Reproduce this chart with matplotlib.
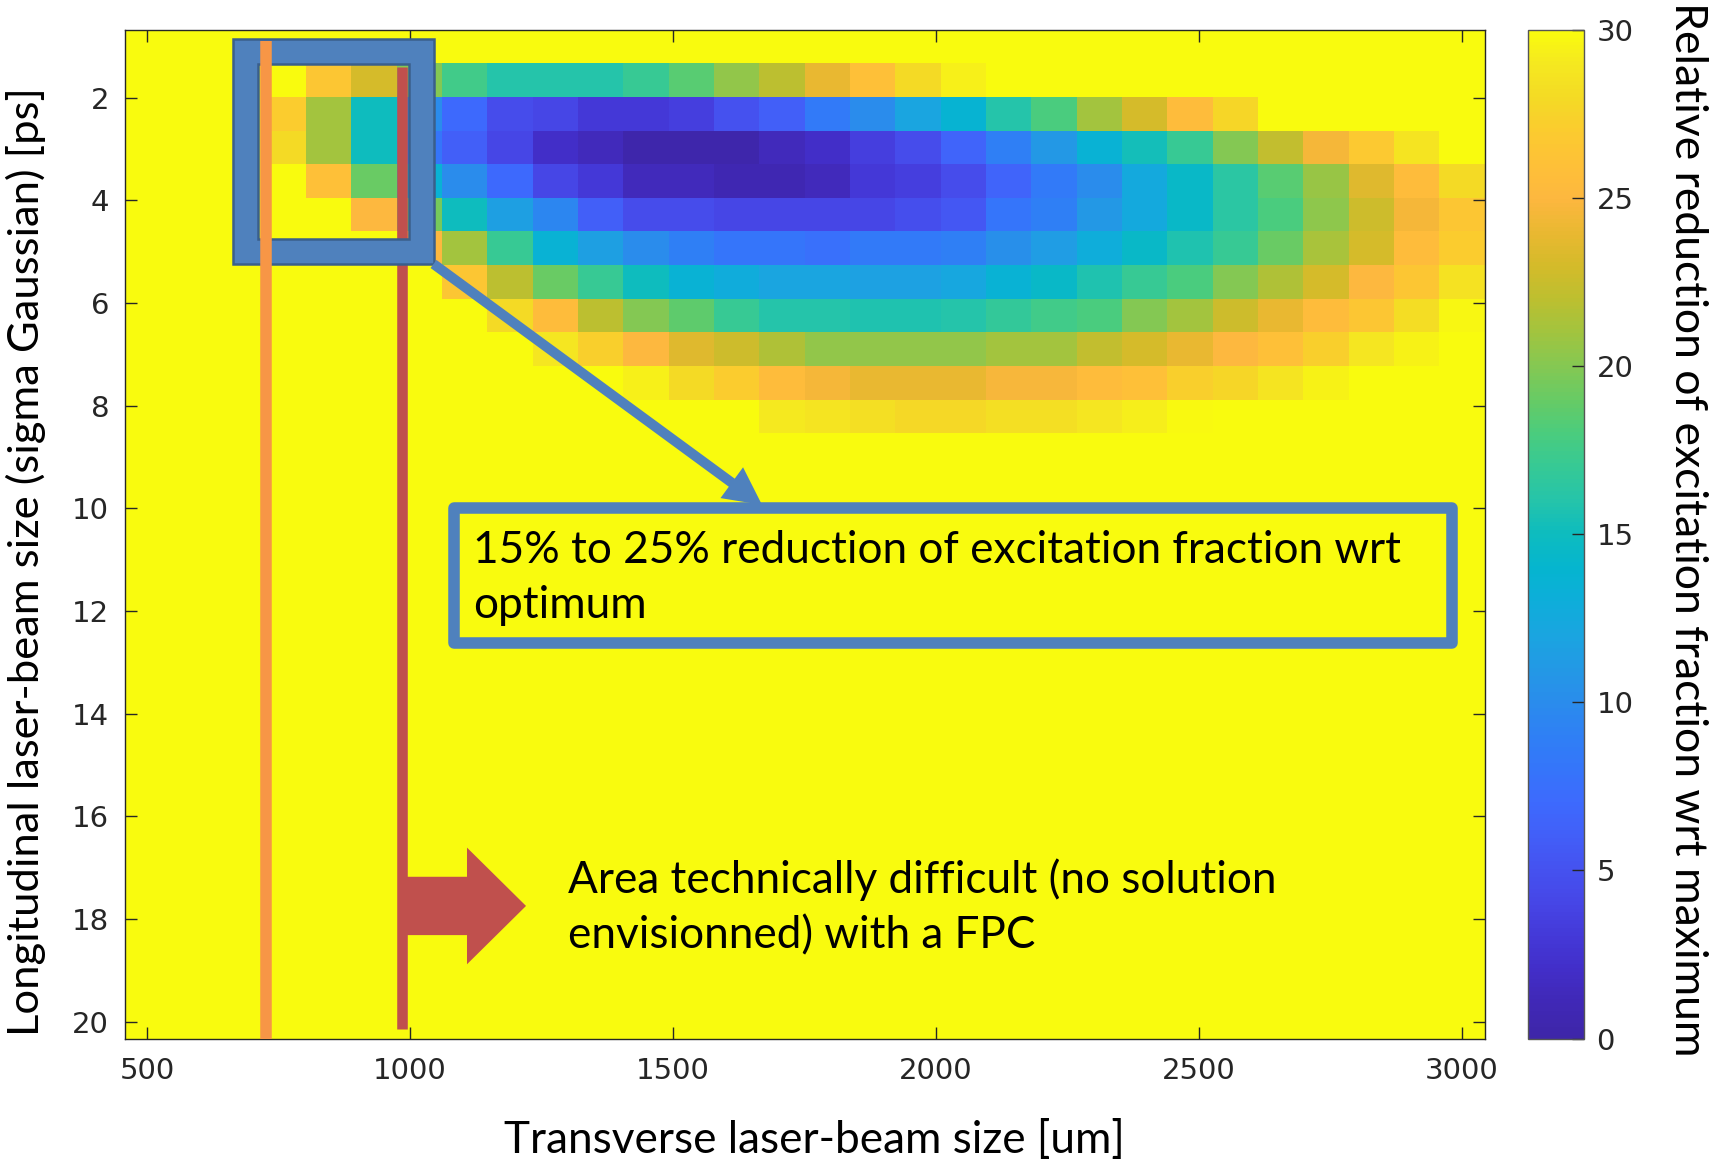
import numpy as np
import matplotlib
matplotlib.use('Agg')
import matplotlib.pyplot as plt
from matplotlib.colors import LinearSegmentedColormap
from matplotlib.patches import FancyArrowPatch, PathPatch, Rectangle
from matplotlib.path import Path

# scan grid: 30 transverse sizes x 30 longitudinal sizes
transverse_um = np.linspace(500, 3000, 30)
longitudinal_ps = np.linspace(1, 20, 30)

# relative reduction [%] per row (sigma = 1.66 ... 8.21 ps), colour scale saturates at 30
row_01 = [30] * 4 + [26.5, 23, 20, 17.5, 16, 16, 16, 17, 18.5, 20.5, 22, 24, 26, 28, 29.3] + [30] * 11
row_02 = [30] * 3 + [27, 21, 15, 10, 7, 4.5, 4, 3, 3, 3.5, 5, 6, 8.5, 10, 12, 13.8, 16, 18, 21, 23,
                     25.5, 27.7] + [30] * 5
row_03 = [30] * 3 + [28, 21, 15, 8, 6, 4, 2, 1.3, 0.3, 0.3, 0.3, 1.3, 2, 3.5, 4.5, 6.5, 9, 11, 13.5,
                     15.3, 17, 20, 22.2, 24.5, 26.8, 28.7, 30]
row_04 = [30] * 4 + [26, 19, 13.5, 10, 7, 4, 3, 1.3, 1.3, 0.8, 0.8, 1.3, 3, 3.5, 4.5, 6.5, 8.5, 10,
                     12.5, 14.5, 16.3, 18.5, 20.7, 23.5, 25.5, 28]
row_05 = [30] * 5 + [25, 19.5, 15, 11.5, 9.5, 6, 4.5, 4.5, 4, 4, 4, 4, 4.7, 5.5, 8, 9, 11, 12.5, 14.5,
                     16.3, 18, 20.3, 22.7, 24.5, 26.5]
row_06 = [30] * 6 + [25, 21, 17, 13.5, 11.5, 10, 9, 8, 8, 7.5, 8.5, 8.5, 9, 10.3, 11.3, 13, 14.5, 15.8,
                     17, 19, 21.3, 23, 25.5, 27]
row_07 = [30] * 7 + [26.5, 22, 19, 17, 15, 13.5, 12.8, 12, 12, 11.7, 11.7, 12.3, 13.5, 14.5, 15.8, 17,
                     18, 20, 21.5, 23, 25, 26.5, 28.5]
row_08 = [30] * 8 + [28, 25.5, 22, 20, 18.7, 17, 16, 16, 15.8, 15.8, 16, 16.8, 17.5, 18, 20, 21, 22.7,
                     24, 25.5, 26.5, 28.2, 29.7]
row_09 = [30] * 9 + [28.8, 27.3, 25, 23.5, 22.7, 21.5, 20.5, 20.5, 20.5, 20.5, 21, 21, 22.2, 23, 24, 25,
                     26, 27.3, 28.8, 29.5, 30]
row_10 = [30] * 11 + [29.3, 28, 27, 25.5, 24.5, 24, 24, 24, 24.7, 24.7, 25.5, 26, 27.3, 27.7, 28.7,
                      29.5, 30, 30, 30]
row_11 = [30] * 14 + [29, 28.7, 28.3, 27.8, 27.8, 28.3, 28.3, 28.8, 29.2, 29.8, 30, 30, 30, 30, 30, 30]

reduction = np.full((len(longitudinal_ps), len(transverse_um)), 30.0)
reduction[1:12] = [row_01, row_02, row_03, row_04, row_05, row_06,
                   row_07, row_08, row_09, row_10, row_11]

# MATLAB parula, sampled every 1/30 of the range
parula = LinearSegmentedColormap.from_list('parula', [
    '#3E26A8', '#4028B6', '#422EC8', '#4439D8', '#4646E6', '#4552F0', '#425FF8', '#3D6AFD',
    '#3575FA', '#2F80F5', '#2A8CEC', '#2399E5', '#1AA5E0', '#0EAEDA', '#05B5CF', '#0DBCBF',
    '#25C4AA', '#36C995', '#4ACC7E', '#67CB65', '#84C853', '#A1C43F', '#BCBF30', '#D4BB2A',
    '#E9B831', '#FDB73F', '#FEC038', '#FBCB2F', '#F4DA25', '#F5E820', '#F9FB0E'], N=256)

BLUE = '#4F81BD'
ORANGE = '#F79646'
RED = '#C0504D'
TXT = '#262626'
NOTE_FONT = 'Lato'
NOTE_SIZE = 31.8

fig = plt.figure(figsize=(17.27, 11.6), dpi=100)
ax = fig.add_axes([0.0721, 0.1047, 0.7876, 0.8697])
cax = fig.add_axes([0.8845, 0.1047, 0.0327, 0.8697])

mesh = ax.pcolormesh(transverse_um, longitudinal_ps, reduction, cmap=parula,
                     vmin=0, vmax=30, shading='nearest')
dx = transverse_um[1] - transverse_um[0]
dy = longitudinal_ps[1] - longitudinal_ps[0]
ax.set_xlim(transverse_um[0] - dx / 2, transverse_um[-1] + dx / 2)
ax.set_ylim(longitudinal_ps[-1] + dy / 2, longitudinal_ps[0] - dy / 2)

ax.set_xticks(range(500, 3001, 500))
ax.set_yticks(range(2, 21, 2))
ax.tick_params(direction='in', length=8.9, width=1.0, color=TXT, labelcolor=TXT,
               labelsize=21, top=True, right=True)
ax.tick_params(axis='x', pad=13)
ax.tick_params(axis='y', pad=11)
for s in ax.spines.values():
    s.set_color(TXT)
    s.set_linewidth(1.0)

cb = fig.colorbar(mesh, cax=cax, ticks=range(0, 31, 5))
cb.outline.set_edgecolor('#555555')
cb.outline.set_linewidth(1.0)
cax.tick_params(direction='in', length=8.9, width=1.0, color=TXT, labelcolor=TXT,
                labelsize=21, pad=9)

fig.text(0.4713, 0.006, 'Transverse laser-beam size [um]', family=NOTE_FONT,
         fontsize=NOTE_SIZE, ha='center', va='baseline')
fig.text(39 / 1727, 0.516, 'Longitudinal laser-beam size (sigma Gaussian) [ps]',
         family=NOTE_FONT, fontsize=31.3, rotation=90, rotation_mode='anchor',
         ha='center', va='baseline')
fig.text(1675 / 1727, 0.544, 'Relative reduction of excitation fraction wrt maximum',
         family=NOTE_FONT, fontsize=32, rotation=-90, rotation_mode='anchor',
         ha='center', va='baseline')

# vertical limits
ax.plot([983.6, 983.6], [1.40, 20.14], color=RED, lw=7.6, solid_capstyle='butt', zorder=3)

# highlight frame around the small-size corner
outer = [(664.1, 0.863), (1044.4, 0.863), (1044.4, 5.237), (664.1, 5.237), (664.1, 0.863)]
inner = [(710.7, 1.340), (710.7, 4.750), (996.9, 4.750), (996.9, 1.340), (710.7, 1.340)]
codes = [Path.MOVETO, Path.LINETO, Path.LINETO, Path.LINETO, Path.CLOSEPOLY]
frame = Path(outer + inner, codes + codes)
ax.add_patch(PathPatch(frame, facecolor=BLUE, edgecolor='#3A5F8B', lw=1.8, zorder=4))

ax.plot([725, 725], [0.886, 20.5], color=ORANGE, lw=8.3, solid_capstyle='butt', zorder=5)

ax.add_patch(FancyArrowPatch((1044.4, 5.237), (1669, 9.93),
                             arrowstyle='simple,head_length=27,head_width=27.5,tail_width=7.2',
                             mutation_scale=1, color=BLUE, lw=0, shrinkA=0, shrinkB=0, zorder=4))

ax.add_patch(Rectangle((1084.3, 10.0), 2980 - 1084.3, 2.63, fill=False, edgecolor=BLUE,
                       lw=8.3, joinstyle='round', zorder=4))
ax.text(1120.1, 11.07, '15% to 25% reduction of excitation fraction wrt', family=NOTE_FONT,
        fontsize=NOTE_SIZE, va='baseline', zorder=5)
ax.text(1120.1, 12.14, 'optimum', family=NOTE_FONT, fontsize=NOTE_SIZE, va='baseline', zorder=5)

ax.add_patch(FancyArrowPatch((983.6, 17.744), (1220.3, 17.744),
                             arrowstyle='simple,head_length=42.5,head_width=84,tail_width=42',
                             mutation_scale=1, color=RED, lw=0, shrinkA=0, shrinkB=0, zorder=4))
ax.text(1300.7, 17.50, 'Area technically difficult (no solution', family=NOTE_FONT,
        fontsize=NOTE_SIZE, va='baseline', zorder=5)
ax.text(1300.7, 18.57, 'envisionned) with a FPC', family=NOTE_FONT, fontsize=NOTE_SIZE,
        va='baseline', zorder=5)

fig.savefig('out.png', dpi=100)
